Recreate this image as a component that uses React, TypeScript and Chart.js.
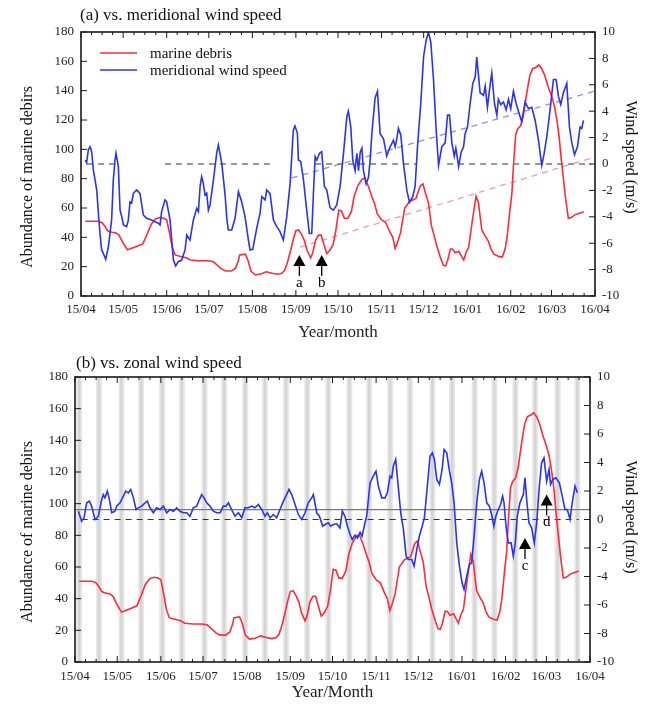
import React, { useEffect, useRef } from "react";
import { Chart, registerables } from "chart.js";

Chart.register(...registerables);

const FONT = "'Liberation Serif', 'Times New Roman', Times, serif";

// ---- axes ----
const monthDays = [0, 30, 61, 91, 122, 153, 183, 214, 244, 275, 306, 335, 366];
const monthLabels = ["15/04", "15/05", "15/06", "15/07", "15/08", "15/09", "15/10", "15/11", "15/12", "16/01", "16/02", "16/03", "16/04"];
const abundanceTicks = [0, 20, 40, 60, 80, 100, 120, 140, 160, 180];
const windTicks = [-10, -8, -6, -4, -2, 0, 2, 4, 6, 8, 10];

// ---- marine debris (day since 15/04/01, abundance) ----
const debris: [number, number][] = [
  [3, 51], [8, 51], [12, 51], [15, 50], [17, 47.5], [19, 44.5], [22, 43.5], [25, 43], [27, 41.5], [30, 36],
  [33, 31.5], [36, 32.5], [40, 34], [44, 35.5], [47, 42], [50, 49], [53, 52.5], [56, 53.5], [59, 53], [61, 52],
  [63, 43], [65, 33], [67, 28], [71, 27], [75, 26], [78, 24.5], [84, 24], [90, 24], [94, 23.5], [97, 21],
  [100, 18.5], [103, 17], [107, 17], [110, 19], [112, 24], [113, 28], [117, 28.5], [119, 24], [121, 17], [124, 14.5],
  [128, 15], [132, 16.5], [136, 15.5], [140, 14.8], [143, 15.5], [145, 17.5], [147, 23], [149, 30], [151, 38], [153, 44.5],
  [155, 45], [157, 42], [159, 38], [161, 31], [163.5, 26], [165, 29.5], [167, 38], [169, 41.5], [171, 41.5], [173, 35],
  [175, 29], [177, 31], [179.5, 35], [181.5, 45], [183.5, 58.5], [185.5, 58], [187.5, 53], [190, 53], [192.5, 57.5], [194.5, 68],
  [197, 75], [200, 79.5], [202, 80.5], [204.5, 75], [207, 68], [209, 63], [211, 56], [214, 52], [217, 50], [220, 43.5],
  [222, 40], [223.7, 32.5], [225.5, 37], [227.5, 43], [230.5, 60], [234, 64.5], [238.5, 66.5], [241.5, 75], [243.5, 76.5], [245, 71],
  [247.5, 63], [249.5, 48], [251.5, 41], [253.5, 33.5], [256, 26], [258, 21], [259.5, 20.5], [261, 24], [263, 32], [264.5, 32],
  [266.5, 29.5], [269, 30.5], [271, 27], [272.5, 24.5], [274.5, 30.5], [276, 33], [278.3, 49], [280, 60], [281.3, 68], [283, 63.5],
  [285.4, 45], [287.7, 41], [290, 37.5], [292, 32], [294, 28.5], [297.5, 27], [300, 26.5], [302, 32], [303.5, 41], [305, 55],
  [306.8, 70], [308, 90], [309.5, 110], [311, 114], [313, 116], [315, 123], [317, 136], [319.5, 150], [321.5, 155], [324, 156],
  [326, 157.5], [328, 155], [330, 151], [332.5, 143], [335, 136.5], [337, 130], [339, 119], [340.5, 108], [342, 93], [343.5, 80],
  [345, 67], [347, 53], [349, 53.5], [352, 55.5], [355, 56.5], [358, 57.5],
];

// ---- meridional wind speed (day, m/s) ----
const meridional: [number, number][] = [
  [3, 0.3], [4, 0.1], [5.2, 1.07], [6.4, 1.31], [7.6, 0.93], [8.8, -0.46], [10, -1.21], [11.2, -1.97], [12.3, -3.61], [13.5, -5.26],
  [14.7, -6.51], [15.9, -6.77], [17.6, -7.22], [19.5, -6.27], [21.8, -4.24], [23, -1.21], [24.2, 0.3], [24.9, 0.81], [26.6, -0.2], [27.8, -3.49],
  [29, -3.99], [30.2, -4.62], [32.5, -4.74], [33.7, -4.24], [34.9, -2.86], [36.1, -2.93], [37.3, -2.22], [39.6, -1.97], [42, -2.22], [44.4, -3.87],
  [46.7, -4.11], [50.3, -4.24], [52.7, -4.37], [55.1, -4.49], [56.3, -4.62], [57.4, -3.61], [59.8, -2.72], [61, -2.86], [63.4, -4.24], [65.8, -7.28],
  [67.4, -7.72], [69.3, -7.4], [71.7, -7.28], [74.1, -6.51], [75.3, -5.38], [77.6, -5.76], [80, -4.24], [82.4, -3.36], [83.6, -3.61], [84.8, -1.71],
  [85.9, -0.96], [87.1, -1.47], [88.3, -2.34], [89.5, -2.22], [90.7, -3.49], [91.9, -3.1], [94.3, -1.21], [96.6, 0.81], [97.8, 1.44], [100.2, 0.06],
  [102.6, -2.34], [103.8, -4.11], [104.9, -5], [107.3, -5], [109.7, -4.11], [112.1, -2.1], [114.4, -2.86], [116.8, -3.99], [119.2, -5.76], [120.4, -6.51],
  [122.3, -6.47], [125.1, -4.88], [127.5, -3.73], [128.7, -2.48], [131.1, -2.72], [132.2, -1.97], [134.6, -2.22], [137, -4.24], [139.4, -4.74], [141.7, -5.12],
  [144.1, -5.76], [146.5, -3.99], [148.9, -1.47], [151.2, 2.58], [152.4, 2.88], [154.1, 2.32], [154.8, 0.3], [156.5, 0.18], [158.4, -1.21], [160.7, -3.49],
  [162.6, -5.26], [164.3, -5.26], [165.5, -2.22], [166.7, 0.56], [167.9, 0.3], [169.8, 0.81], [171.4, 0.93], [173.3, -1.71], [175, -1.97], [177.3, -3.3],
  [179.7, -3.5], [182.1, -3.1], [184.5, -1.7], [186.9, 0.8], [189.3, 3.6], [190.4, 4.0], [192.1, 2.8], [193.5, 0.3], [195.2, -0.5], [196.4, 0.8],
  [197.6, -0.5], [198.8, 0.9], [200, 1.2], [201.1, -0.5], [203, -1.5], [204.7, -1.0], [205.9, 0.3], [207.1, 2.3], [209.4, 5.0], [211.1, 5.5],
  [213, 2.3], [215.4, 1.9], [217.7, 0.6], [220.1, 1.3], [222.5, 1.8], [223.7, 1.3], [224.9, 1.9], [226, 2.7], [227.7, 2.2], [229.6, 0.05],
  [232, -2.0], [233.9, -2.9], [236.2, -2.5], [237.9, -1.7], [239.6, 1.3], [242, 4.7], [243.9, 8.1], [245.8, 9.4], [247.4, 10.0], [249.1, 9.2],
  [251, 6.4], [252.9, 2.6], [254.6, -0.1], [256.9, 1.3], [259.3, 1.6], [261, 3.7], [262.4, 3.7], [264.1, 1.6], [265.8, 0.6], [266.9, 1.2],
  [268.9, -0.2], [270.7, 0.9], [272.4, 1.3], [273.5, 2.3], [275.2, 2.8], [277.1, 4.6], [279, 6.1], [280.7, 6.6], [281.8, 8.1], [284.2, 5.4],
  [286.6, 5.2], [287.8, 5.9], [289.4, 4.3], [291.3, 6.0], [292.5, 6.9], [294.4, 4.6], [296.1, 3.7], [297.2, 4.9], [298.9, 4.5], [300.8, 4.7],
  [302.7, 4.1], [304.4, 4.9], [306, 4.2], [307.9, 5.5], [309.8, 4.6], [311.5, 4.0], [313.8, 3.2], [316.2, 4.7], [318.6, 4.2], [321, 4.3],
  [323.4, 3.3], [325.7, 1.8], [328.1, -0.1], [329.8, 0.8], [331.7, 2.1], [334, 4.1], [336.4, 6.4], [338.3, 6.4], [340, 5.1], [341.6, 4.5],
  [343.5, 5.4], [345.9, 6.1], [347.8, 2.8], [349.5, 1.6], [351.4, 0.7], [353.5, 1.3], [355.4, 2.8], [356.6, 2.7], [357.8, 3.3],
];

// ---- zonal wind speed (day, m/s) ----
const zonal: [number, number][] = [
  [2.4, 0.58], [4.7, -0.12], [6.4, 0.12], [8.3, 1.17], [10.2, 1.29], [11.8, 0.94], [14.2, 0], [16.6, 0.23], [19, 1.4], [20.1, 1.75],
  [21.3, 1.52], [23, 1.99], [24.9, 1.17], [26.1, 0.47], [28.4, 0.58], [29.6, 0.94], [32, 1.17], [34.4, 1.64], [36, 1.99], [37.9, 1.87],
  [39.6, 2.11], [41.5, 1.52], [43.4, 0.7], [45, 0.82], [47.4, 0.94], [49.8, 1.17], [51.4, 1.29], [53.3, 0.82], [55.7, 0.47], [58, 0.82],
  [60.4, 0.7], [62.8, 0.94], [65.2, 0.47], [67.5, 0.7], [69.9, 0.58], [72.3, 0.82], [74.6, 0.58], [77, 0.47], [79.4, 0.47], [81.7, 0.23],
  [84.1, 0.82], [86.5, 0.94], [88.4, 1.4], [90, 1.75], [91.7, 1.52], [93.6, 1.17], [95.9, 0.94], [98.3, 0.58], [100.7, 0.47], [103.1, 0.47],
  [105.4, 0.94], [107.3, 0.94], [109, 1.17], [111.3, 0.7], [113.7, 0.23], [116.1, 0.47], [118.5, 0.12], [120.8, 0.82], [123.2, 0.82], [125.6, 0.94],
  [127.9, 0.82], [130.3, 1.05], [132.7, 0.7], [135, 0.23], [136.7, 0.47], [138.6, 0.12], [141, 0.35], [143.3, 0.12], [145.7, 0.7], [148.1, 1.29],
  [150.4, 1.75], [152.1, 2.11], [154, 1.75], [156.4, 1.05], [158.7, 0.35], [161.1, 0], [163.5, 0.47], [165.8, 1.17], [168.2, 1.52], [169.4, 1.75],
  [171.8, 0.47], [173.7, 0.23], [176, -0.47], [177.7, -0.35], [180, -0.23], [181.7, -0.47], [183.6, -0.35], [186, -0.3], [188.3, -0.6], [190, 0.6],
  [191.9, 0.2], [193.6, -0.47], [195.5, -1.05], [197, -1.4], [199, -1.1], [200.7, -1.3], [202.6, -0.9], [204, -1.17], [206.1, -0.23], [207.3, 0.23],
  [209.7, 2.57], [212, 3.04], [213.9, 3.39], [215.6, 2.34], [218, 1.52], [220.3, 1.52], [222, 1.87], [223.9, 3.04], [225.1, 2.92], [226.2, 3.74],
  [227.9, 4.21], [229.8, 2.22], [231.5, 0.47], [233.4, -0.7], [235.3, -2.57], [236.9, -2.81], [239.3, -2.81], [241, -3.27], [242.9, -2.11], [244.7, -1.17],
  [246.4, -0.58], [248.3, 0.12], [250.4, 2.34], [252.3, 4.44], [254, 4.68], [255.4, 4.21], [257.1, 2.81], [259, 2.46], [260.9, 3.51], [262.3, 4.91],
  [264.2, 4.68], [265.9, 3.51], [267.7, 2.57], [269.4, 1.17], [271.3, -1.64], [273.2, -3.27], [275.1, -4.44], [276.5, -4.91], [278.4, -3.98], [280.3, -3.16],
  [281.9, -3.04], [283.6, -1.17], [285.5, 1.17], [287.4, 2.81], [289, 3.39], [290.7, 2.57], [292.6, 1.17], [294.4, 0.94], [296.1, 0.35], [297.7, -0.47],
  [299.1, 0.23], [300.8, 0.7], [302.5, 1.05], [303.9, 1.64], [304.9, 1.17], [306.3, -0.47], [307.9, -1.64], [309.9, -1.64], [311.5, -2.57], [312.9, -1.64],
  [314.3, 0.23], [316.2, 1.17], [318.6, 1.75], [319.8, 2.92], [321, 1.4], [322.6, -0.23], [324.5, -0.58], [326.4, -1.64], [328.1, -0.23], [330, 2.34],
  [331.6, 3.98], [333.3, 4.33], [335.2, 2.69], [336.9, 3.51], [338, 2.46], [339.5, 2.81], [341.8, 2.92], [344.2, 2.57], [345.8, 1.87], [348.2, 0.7],
  [349.9, 0.7], [351.8, 0], [353.7, 1.4], [355.4, 2.34], [357, 1.87],
];

// ---- reference / trend lines ----
const meridionalTrend: [number, number][] = [[150, -1.06], [366, 5.53]];
const debrisTrend: [number, number][] = [[156, 33.4], [366, 94.8]];
const zeroSegmentsA: [number, number][] = [[4.3, 27.8], [59.8, 134.6], [166.7, 239.3], [260.7, 363.2]];
const zeroSegmentsB: [number, number][] = [[4.7, 358]];
const zonalMean = 0.7;

// ---- spring-tide stripes (day) ----
const springTideDays = [3, 17, 33, 47, 62, 76, 92, 106, 121, 135, 150, 165, 180, 195, 209, 224, 238, 254, 268, 284, 298, 313, 327, 343, 357];

// ---- arrows ----
const arrowDaysA = [155.5, 171.4];
const arrowTipsA = [28, 28];
const arrowLabelsA = ["a", "b"];
const arrowDaysB = [319.8, 335.2];
const arrowTipsB = [78.3, 105.8];
const arrowLabelsB = ["c", "d"];

const RED = "#ff2a3c";
const BLUE = "#2a34f0";

const pts = (s: [number, number][]) => s.map(([x, y]) => ({ x, y }));

const decorPlugin: any = {
  id: "decor",
  beforeDatasetsDraw(chart: any, _a: any, opts: any) {
    const { ctx, chartArea: a, scales } = chart;
    if (!opts.stripes) return;
    ctx.save();
    ctx.beginPath();
    ctx.rect(a.left, a.top, a.right - a.left, a.bottom - a.top);
    ctx.clip();
    for (const d of opts.stripes) {
      const x0 = scales.x.getPixelForValue(d - 2.1);
      const x1 = scales.x.getPixelForValue(d + 2.1);
      ctx.fillStyle = "#e6e6e6";
      ctx.fillRect(x0, a.top, x1 - x0, a.bottom - a.top);
      const c0 = scales.x.getPixelForValue(d - 0.8);
      const c1 = scales.x.getPixelForValue(d + 0.8);
      ctx.fillStyle = "#d4d4d4";
      ctx.fillRect(c0, a.top, c1 - c0, a.bottom - a.top);
    }
    ctx.restore();
  },
  afterDatasetsDraw(chart: any, _a: any, opts: any) {
    const { ctx, chartArea: a, scales } = chart;
    ctx.save();
    ctx.strokeStyle = "#1a1a1a";
    ctx.lineWidth = 1.6;
    ctx.strokeRect(a.left, a.top, a.right - a.left, a.bottom - a.top);
    ctx.lineWidth = 1;
    ctx.beginPath();
    for (let i = 0; i < monthDays.length; i++) {
      const d = monthDays[i];
      const x = scales.x.getPixelForValue(d);
      ctx.moveTo(x, a.bottom); ctx.lineTo(x, a.bottom - 6);
      ctx.moveTo(x, a.top); ctx.lineTo(x, a.top + 6);
      if (i < monthDays.length - 1) {
        const span = monthDays[i + 1] - d;
        for (let q = 1; q < 4; q++) {
          const xm = scales.x.getPixelForValue(d + (span * q) / 4);
          ctx.moveTo(xm, a.bottom); ctx.lineTo(xm, a.bottom - 3);
          ctx.moveTo(xm, a.top); ctx.lineTo(xm, a.top + 3);
        }
      }
    }
    for (const v of abundanceTicks) {
      const y = scales.y.getPixelForValue(v);
      ctx.moveTo(a.left, y); ctx.lineTo(a.left + 6, y);
    }
    for (const v of windTicks) {
      const y = scales.y1.getPixelForValue(v);
      ctx.moveTo(a.right, y); ctx.lineTo(a.right - 6, y);
    }
    ctx.stroke();

    // arrows
    const ar = opts.arrows;
    if (ar) {
      ctx.fillStyle = "#000";
      ctx.strokeStyle = "#000";
      ctx.font = `15px ${FONT}`;
      ctx.textAlign = "center";
      ctx.textBaseline = "middle";
      ar.days.forEach((d: number, i: number) => {
        const x = scales.x.getPixelForValue(d);
        const y = scales.y.getPixelForValue(ar.tips[i]);
        ctx.beginPath();
        ctx.moveTo(x, y);
        ctx.lineTo(x - 6, y + 11);
        ctx.lineTo(x + 6, y + 11);
        ctx.closePath();
        ctx.fill();
        ctx.lineWidth = 1.3;
        ctx.beginPath();
        ctx.moveTo(x, y + 10);
        ctx.lineTo(x, y + 21);
        ctx.stroke();
        ctx.fillText(ar.labels[i], x, y + 28);
      });
    }

    // legend
    if (opts.legend) {
      ctx.font = `15px ${FONT}`;
      ctx.textAlign = "left";
      ctx.textBaseline = "middle";
      opts.legend.forEach((it: any, i: number) => {
        const y = a.top + 21 + i * 17;
        ctx.strokeStyle = it.color;
        ctx.lineWidth = 1.6;
        ctx.beginPath();
        ctx.moveTo(a.left + 19, y);
        ctx.lineTo(a.left + 56, y);
        ctx.stroke();
        ctx.fillStyle = "#111";
        ctx.fillText(it.text, a.left + 69, y + 1);
      });
    }
    ctx.restore();
  },
  afterDraw(chart: any, _a: any, opts: any) {
    const { ctx } = chart;
    ctx.save();
    ctx.fillStyle = "#111";
    ctx.textBaseline = "middle";
    ctx.textAlign = "left";
    ctx.font = `17px ${FONT}`;
    ctx.fillText(opts.title, opts.titleX, opts.titleY);
    ctx.font = `16px ${FONT}`;
    ctx.textAlign = "center";
    ctx.save();
    ctx.translate(28, opts.leftTitleY);
    ctx.rotate(-Math.PI / 2);
    ctx.fillText("Abundance of marine debirs", 0, 0);
    ctx.restore();
    ctx.save();
    ctx.translate(630, opts.rightTitleY);
    ctx.rotate(Math.PI / 2);
    ctx.fillText("Wind speed (m/s)", 0, 0);
    ctx.restore();
    ctx.restore();
  },
};

function lineDs(data: any[], color: string, axis: string, order: number, extra: any = {}) {
  return {
    data,
    borderColor: color,
    backgroundColor: color,
    borderWidth: 1.6,
    pointRadius: 0,
    tension: 0,
    fill: false,
    yAxisID: axis,
    order,
    ...extra,
  };
}

function makeConfig(panel: "a" | "b") {
  const isA = panel === "a";
  const datasets: any[] = [];
  const segs = isA ? zeroSegmentsA : zeroSegmentsB;
  segs.forEach(([s, e]) => {
    datasets.push(lineDs([{ x: s, y: 0 }, { x: e, y: 0 }], "#333", "y1", 20, { borderWidth: 1, borderDash: [6, 5] }));
  });
  if (isA) {
    datasets.push(lineDs(pts(meridionalTrend), "rgba(140,125,235,0.9)", "y1", 15, { borderWidth: 1.3, borderDash: [6, 5] }));
    datasets.push(lineDs(pts(debrisTrend), "rgba(245,140,160,0.9)", "y", 15, { borderWidth: 1.3, borderDash: [6, 5] }));
  } else {
    datasets.push(lineDs([{ x: 0, y: zonalMean }, { x: 366, y: zonalMean }], "#7a7a7a", "y1", 18, { borderWidth: 1.3 }));
  }
  datasets.push(lineDs(pts(debris), RED, "y", 5));
  datasets.push(lineDs(pts(isA ? meridional : zonal), BLUE, "y1", 4));

  const area = isA
    ? { left: 81, right: 53, top: 32, bottom: 54, xPad: 6, xTitlePad: 7 }
    : { left: 75, right: 58, top: 27, bottom: 42, xPad: 7, xTitlePad: 1 };

  const gridOff = { display: false, drawTicks: false, tickLength: 0 };

  return {
    type: "line",
    data: { datasets },
    plugins: [decorPlugin],
    options: {
      responsive: false,
      animation: false,
      events: [],
      layout: { padding: { top: area.top, left: 0, right: 0, bottom: 0 } },
      plugins: {
        legend: { display: false },
        tooltip: { enabled: false },
        decor: {
          stripes: isA ? null : springTideDays,
          arrows: isA
            ? { days: arrowDaysA, tips: arrowTipsA, labels: arrowLabelsA }
            : { days: arrowDaysB, tips: arrowTipsB, labels: arrowLabelsB },
          legend: isA
            ? [
                { text: "marine debris", color: RED },
                { text: "meridional wind speed", color: BLUE },
              ]
            : null,
          title: isA ? "(a) vs. meridional wind speed" : "(b) vs. zonal wind speed",
          titleX: isA ? 80 : 76,
          titleY: isA ? 16 : 14,
          leftTitleY: isA ? 177 : 182,
          rightTitleY: isA ? 157 : 167,
        },
      },
      scales: {
        x: {
          type: "linear",
          min: 0,
          max: 366,
          afterBuildTicks: (s: any) => {
            s.ticks = monthDays.map((v) => ({ value: v }));
          },
          ticks: {
            autoSkip: false,
            maxRotation: 0,
            padding: area.xPad,
            color: "#222",
            font: { family: FONT, size: 13 },
            callback: (v: number) => monthLabels[monthDays.indexOf(v)],
          },
          grid: gridOff,
          border: { display: false },
          title: {
            display: true,
            text: isA ? "Year/month" : "Year/Month",
            color: "#222",
            font: { family: FONT, size: 17 },
            padding: { top: 0, bottom: area.xTitlePad },
          },
          afterFit: (s: any) => {
            s.height = area.bottom;
          },
        },
        y: {
          type: "linear",
          position: "left",
          min: 0,
          max: 180,
          afterBuildTicks: (s: any) => {
            s.ticks = abundanceTicks.map((v) => ({ value: v }));
          },
          ticks: { padding: 7, color: "#222", font: { family: FONT, size: 13 } },
          grid: gridOff,
          border: { display: false },
          afterFit: (s: any) => {
            s.width = area.left;
          },
        },
        y1: {
          type: "linear",
          position: "right",
          min: -10,
          max: 10,
          afterBuildTicks: (s: any) => {
            s.ticks = windTicks.map((v) => ({ value: v }));
          },
          ticks: { padding: 7, color: "#222", font: { family: FONT, size: 13 } },
          grid: gridOff,
          border: { display: false },
          afterFit: (s: any) => {
            s.width = area.right;
          },
        },
      },
    },
  };
}

export default function App() {
  const refA = useRef<HTMLCanvasElement>(null);
  const refB = useRef<HTMLCanvasElement>(null);
  useEffect(() => {
    const cA = new Chart(refA.current as HTMLCanvasElement, makeConfig("a") as any);
    const cB = new Chart(refB.current as HTMLCanvasElement, makeConfig("b") as any);
    return () => {
      cA.destroy();
      cB.destroy();
    };
  }, []);
  return (
    <div style={{ position: "absolute", left: 0, top: 0, width: 648, height: 704, background: "#fff" }}>
      <canvas ref={refA} width={648} height={350} style={{ display: "block" }} />
      <canvas ref={refB} width={648} height={354} style={{ display: "block" }} />
    </div>
  );
}
